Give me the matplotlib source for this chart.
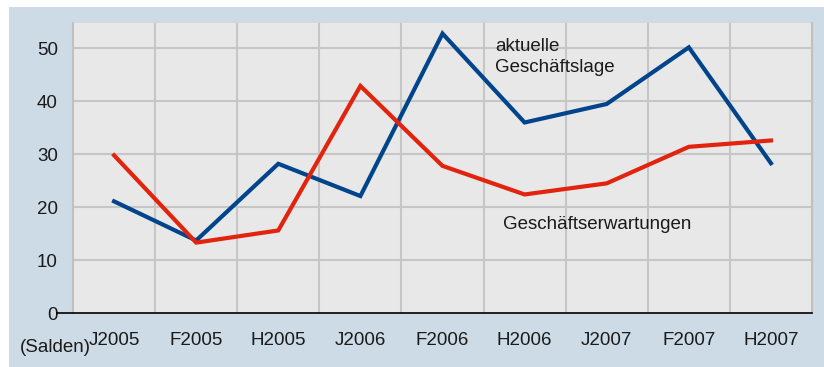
import matplotlib.pyplot as plt
import matplotlib.patches as mpatches

plt.rcParams['font.family'] = ['Liberation Sans', 'DejaVu Sans']

# half-year periods (J = Jan, F = Frühjahr, H = Herbst)
periods = ['J2005', 'F2005', 'H2005', 'J2006', 'F2006',
           'H2006', 'J2007', 'F2007', 'H2007']
lage = [21.1, 13.7, 28.2, 22.1, 52.8, 36.0, 39.5, 50.2, 28.3]
erwartungen = [29.8, 13.3, 15.6, 42.9, 27.8, 22.4, 24.5, 31.4, 32.6]
yticks = [0, 10, 20, 30, 40, 50]

BG_BLUE = '#cddbe7'
PLOT_GREY = '#e8e8e8'
GRID = '#c6c6c6'
LINE_BLUE = '#00448c'
LINE_RED = '#e2230d'
TEXT = '#1a1a1a'
FS = 13.5

fig = plt.figure(figsize=(8.24, 3.67), dpi=100)
fig.patch.set_facecolor('white')
# light blue panel behind the chart
fig.patches.append(mpatches.Rectangle((9 / 824, 0), 1, 1 - 7 / 367,
                                      transform=fig.transFigure,
                                      facecolor=BG_BLUE, edgecolor='none',
                                      zorder=-10))

ax = fig.add_axes([73 / 824, 1 - 313 / 367, 739 / 824, 290 / 367])
ax.set_facecolor(PLOT_GREY)

x = list(range(len(periods)))
ax.plot(x, lage, color=LINE_BLUE, lw=3.0, solid_joinstyle='miter', zorder=3)
ax.plot(x, erwartungen, color=LINE_RED, lw=3.0, solid_joinstyle='miter',
        zorder=3)

ax.set_xlim(-0.5, len(periods) - 0.5)
ax.set_ylim(0, 54.8)

# grid: horizontal at the value ticks, vertical between periods
for v in yticks[1:]:
    ax.axhline(v, color=GRID, lw=1.5, zorder=1)
for i in range(len(periods) - 1):
    ax.axvline(i + 0.5, color=GRID, lw=1.5, zorder=1)

ax.set_yticks(yticks)
ax.set_yticklabels([str(v) for v in yticks])
ax.set_xticks(x)
ax.set_xticklabels(periods)
ax.tick_params(axis='both', length=0, labelsize=FS, labelcolor=TEXT)
ax.tick_params(axis='y', pad=11)
ax.tick_params(axis='x', pad=14)

ax.spines['top'].set_visible(False)
for side in ['left', 'right']:
    ax.spines[side].set_color('#c0c0c0')
    ax.spines[side].set_linewidth(1.5)
ax.spines['bottom'].set_visible(False)

# zero line with its small tick to the left
ax.axhline(0, xmin=-16 / 739, xmax=1, color='black', lw=1.2,
           clip_on=False, zorder=4)

ax.text(4.64, 52.0, 'aktuelle\nGeschäftslage', fontsize=FS, color=TEXT,
        va='top', ha='left', linespacing=1.35)
ax.text(4.74, 16.8, 'Geschäftserwartungen', fontsize=FS, color=TEXT,
        va='center', ha='left')

fig.text(20 / 824, 1 - 348 / 367, '(Salden)', fontsize=FS, color=TEXT,
         va='center', ha='left')

fig.savefig('out.png', dpi=100)
